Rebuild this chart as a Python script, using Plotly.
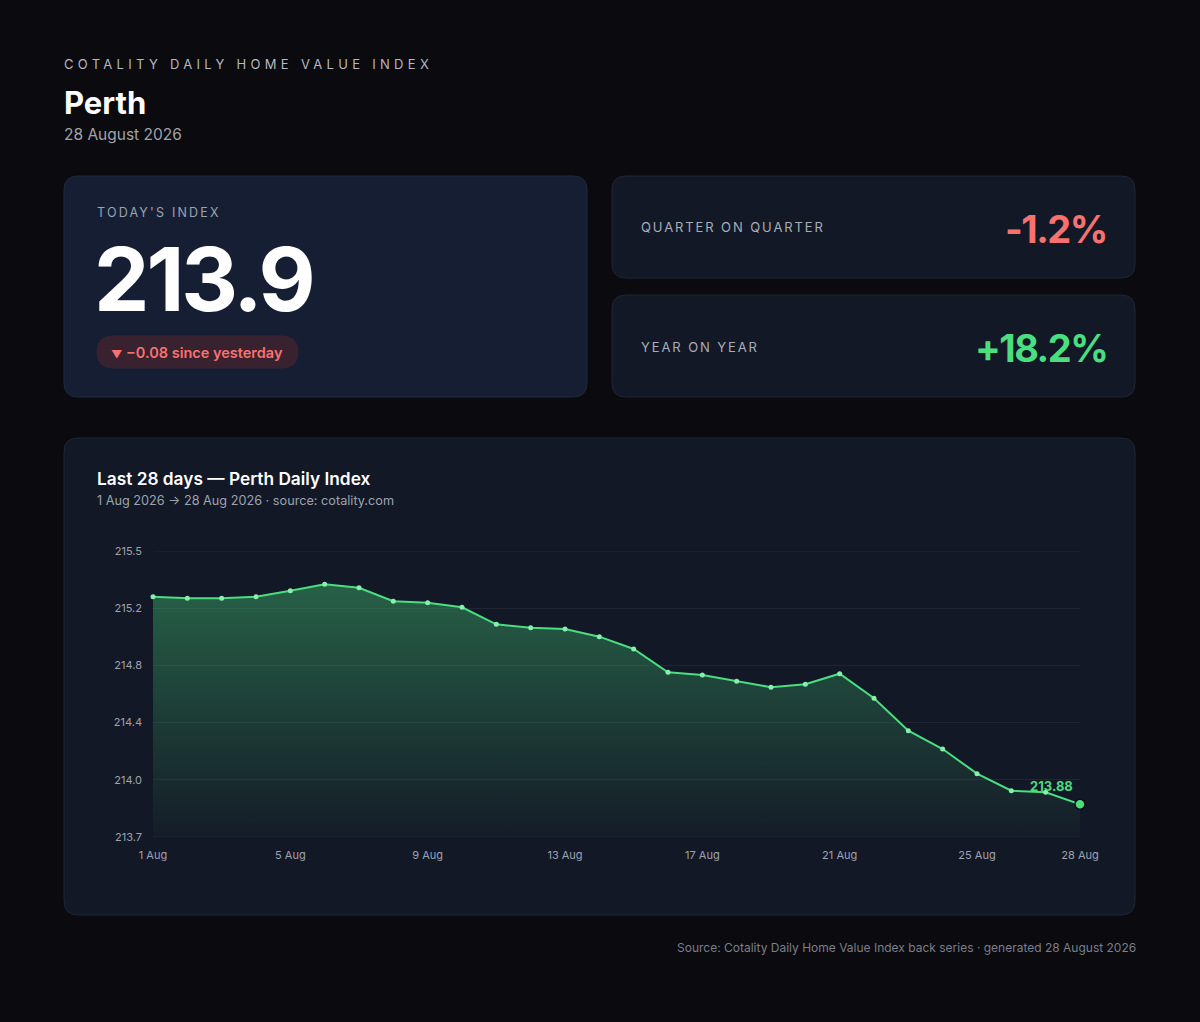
import numpy as np
import pandas as pd
import plotly.graph_objects as go

# --- data ---
DATES = pd.date_range("2026-08-01", "2026-08-28", freq="D")
VALUES = [215.233, 215.222, 215.222, 215.233, 215.272, 215.313, 215.291,
          215.203, 215.194, 215.164, 215.053, 215.031, 215.023, 214.973,
          214.893, 214.741, 214.724, 214.683, 214.644, 214.663, 214.732,
          214.572, 214.361, 214.242, 214.082, 213.971, 213.961, 213.883]
X_TICK_DATES = ["2026-08-01", "2026-08-05", "2026-08-09", "2026-08-13",
                "2026-08-17", "2026-08-21", "2026-08-25", "2026-08-28"]
X_TICK_LABELS = ["1 Aug", "5 Aug", "9 Aug", "13 Aug", "17 Aug", "21 Aug", "25 Aug", "28 Aug"]
Y_MIN, Y_MAX = 213.67, 215.53
QOQ = "-1.2%"
YOY = "+18.2%"

W, H = 1200, 1022
BG = "#0a0a0f"
CARD = "#131826"
BORDER = "#1f2633"
GRID = "#1f2532"
GREEN = "#4ade80"
RED = "#f87171"
MUTED = "#9ca3af"
FONT = "Inter, Noto Sans, sans-serif"


def px(x):
    return x / W


def py(y):
    return 1 - y / H


def card(x0, y0, x1, y1, r, fill, line=BORDER):
    rx, ry = r / W, r / H
    a, b, c, d = px(x0), py(y0), px(x1), py(y1)
    path = (f"M {a+rx},{b} L {c-rx},{b} Q {c},{b} {c},{b-ry} "
            f"L {c},{d+ry} Q {c},{d} {c-rx},{d} L {a+rx},{d} "
            f"Q {a},{d} {a},{d+ry} L {a},{b-ry} Q {a},{b} {a+rx},{b} Z")
    return dict(type="path", xref="paper", yref="paper", path=path,
                fillcolor=fill, line=dict(color=line, width=1), layer="below")


def label(x, y, text, size, color, anchor="left", weight=400, spacing=None):
    if spacing is not None:
        text = f'<span style="letter-spacing:{spacing}px">{text}</span>'
    return dict(x=px(x), y=py(y), xref="paper", yref="paper", text=text,
                showarrow=False, xanchor=anchor, yanchor="middle",
                font=dict(family=FONT, size=size, color=color, weight=weight))


last = VALUES[-1]
delta = VALUES[-1] - VALUES[-2]

fig = go.Figure()

fig.add_trace(go.Scatter(
    x=DATES, y=VALUES, mode="lines+markers",
    line=dict(color=GREEN, width=2),
    marker=dict(size=5, color="#86efac"),
    fill="tozeroy",
    fillgradient=dict(type="vertical", start=Y_MIN, stop=215.35,
                      colorscale=[[0, "rgba(74,222,128,0.02)"],
                                  [1, "rgba(74,222,128,0.37)"]]),
    cliponaxis=False, hoverinfo="skip", showlegend=False,
))

# highlighted last point
fig.add_trace(go.Scatter(
    x=[DATES[-1]], y=[last], mode="markers",
    marker=dict(size=10, color=GREEN, line=dict(color="#0b0f17", width=1.5)),
    cliponaxis=False, hoverinfo="skip", showlegend=False,
))

shapes = [
    card(64, 176, 587, 397, 14, "#161e33", "#1f283a"),
    card(612, 176, 1135, 278, 14, CARD),
    card(612, 295, 1135, 397, 14, CARD),
    card(64, 438, 1135, 915, 14, CARD),
    card(97, 336, 298, 368, 16, "#38222f", "#38222f"),
]
# edge gridlines (plotly drops the ones sitting on the range ends)
for yv in (Y_MIN, Y_MAX):
    shapes.append(dict(type="line", xref="x domain", yref="y", x0=0, x1=1,
                       y0=yv, y1=yv, line=dict(color=GRID, width=1), layer="below"))

annotations = [
    label(62, 64, "COTALITY DAILY HOME VALUE INDEX", 13, "#b4b8c0", spacing=4.3),
    label(62, 102, "Perth", 31, "#ffffff", weight=700),
    label(62, 134, "28 August 2026", 15.5, "#a1a1aa"),
    label(95, 212, "TODAY'S INDEX", 12.5, MUTED, spacing=2.2),
    label(92, 279, f'<span style="letter-spacing:-3px">{last:.1f}</span>', 88, "#ffffff", weight=700),
    label(109, 352, f'<span style="font-size:11px">▼</span> −{abs(delta):.2f} since yesterday',
          14.5, RED, weight=600),
    label(639, 227, "QUARTER ON QUARTER", 13, "#a8adb7", spacing=1.9),
    label(1109, 229, f'<span style="letter-spacing:-1.5px">{QOQ}</span>', 38, RED, anchor="right", weight=700),
    label(639, 347, "YEAR ON YEAR", 13, "#a8adb7", spacing=1.9),
    label(1109, 348, f'<span style="letter-spacing:-1.5px">{YOY}</span>', 38, GREEN, anchor="right", weight=700),
    label(95, 478, "Last 28 days — Perth Daily Index", 17.3, "#ffffff", weight=600),
    label(95, 500, "1 Aug 2026 → 28 Aug 2026 · source: cotality.com", 12.7, MUTED),
    label(1138, 947, "Source: Cotality Daily Home Value Index back series · generated 28 August 2026",
          12, "#7a7f89", anchor="right"),
    dict(x=DATES[-1], y=last, xref="x", yref="y", text=f"{last:.2f}",
         showarrow=False, xanchor="right", yanchor="middle", xshift=-5, yshift=18,
         font=dict(family=FONT, size=13, color=GREEN, weight=700)),
]

fig.update_layout(
    width=W, height=H,
    margin=dict(l=0, r=0, t=0, b=0, pad=0),
    paper_bgcolor=BG, plot_bgcolor="rgba(0,0,0,0)",
    font=dict(family=FONT, color=MUTED),
    shapes=shapes, annotations=annotations,
    xaxis=dict(domain=[px(153), px(1080)], type="date",
               range=[DATES[0], DATES[-1]],
               tickvals=X_TICK_DATES, ticktext=X_TICK_LABELS,
               showgrid=False, zeroline=False, showline=False,
               ticks="", ticklabelstandoff=10, automargin=False,
               tickfont=dict(family=FONT, size=11, color=MUTED)),
    yaxis=dict(domain=[py(837), py(551)], range=[Y_MIN, Y_MAX],
               tickvals=np.linspace(Y_MIN, Y_MAX, 6), tickformat=".1f",
               showgrid=True, gridcolor=GRID, gridwidth=1,
               zeroline=False, showline=False, ticks="", ticklabelstandoff=10,
               automargin=False,
               tickfont=dict(family=FONT, size=11, color=MUTED)),
    hovermode=False,
)

fig.write_html(
    "out.html",
    config={"displayModeBar": False},
    post_script="document.body.style.margin='0';document.body.style.background='#0a0a0f';",
)
